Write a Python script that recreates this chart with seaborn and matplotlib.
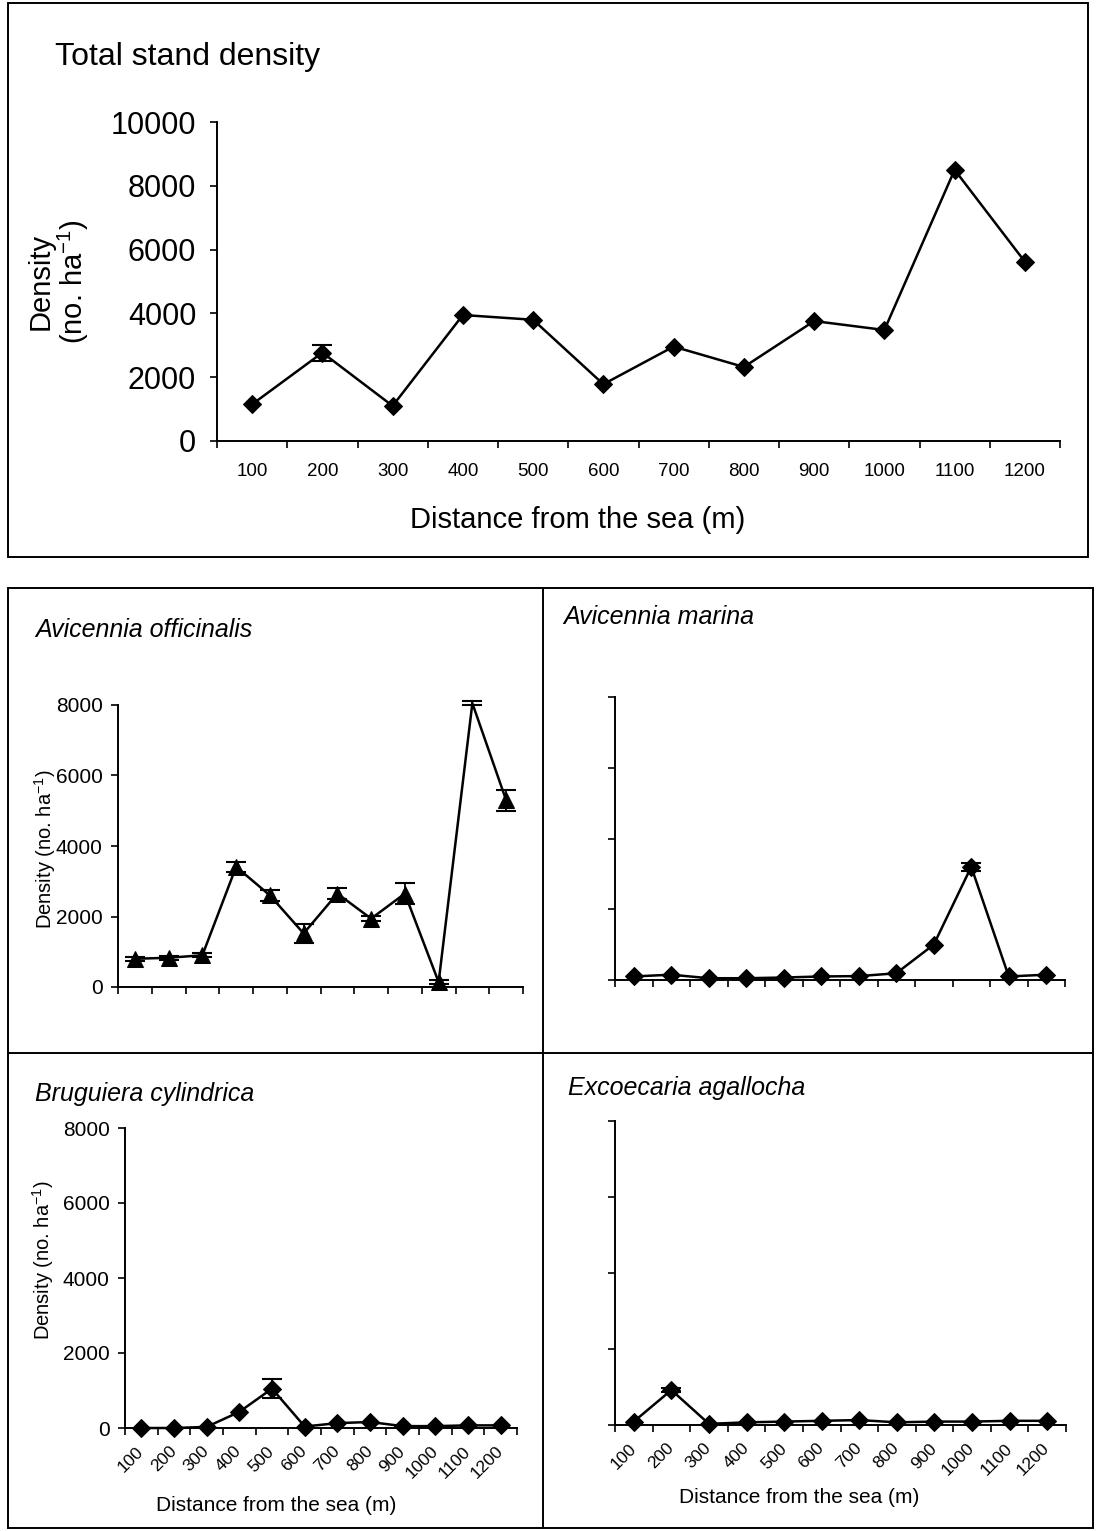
import numpy as np
import pandas as pd
import matplotlib
matplotlib.use("Agg")
import matplotlib.pyplot as plt
import matplotlib.transforms as mtransforms
import seaborn as sns
from matplotlib.patches import Rectangle
from matplotlib.lines import Line2D

# ---------------- data ----------------
distances = ["100", "200", "300", "400", "500", "600", "700", "800", "900", "1000", "1100", "1200"]

total_density = [1150, 2770, 1100, 3950, 3800, 1780, 2960, 2320, 3760, 3480, 8500, 5620]
total_err = [0, 250, 0, 0, 0, 0, 0, 0, 0, 0, 0, 0]

officinalis = [800, 830, 900, 3410, 2600, 1520, 2650, 1940, 2650, 140, 8050, 5300]
officinalis_err = [60, 60, 60, 150, 150, 280, 150, 80, 300, 60, 60, 300]

marina = [100, 150, 50, 50, 70, 100, 110, 190, 1000, 3200, 100, 150]
marina_err = [0, 0, 0, 0, 0, 0, 0, 0, 0, 120, 0, 0]

bruguiera = [0, 0, 30, 430, 1050, 40, 130, 160, 50, 50, 70, 70]
bruguiera_err = [0, 0, 0, 0, 250, 0, 0, 0, 0, 0, 0, 0]

excoecaria = [90, 920, 30, 70, 90, 110, 130, 70, 90, 90, 110, 110]
excoecaria_err = [0, 60, 0, 0, 0, 0, 0, 0, 0, 0, 0, 0]

# ---------------- style ----------------
sns.set_theme(style="white")
plt.rcParams["font.family"] = ["Liberation Sans", "DejaVu Sans"]
plt.rcParams["mathtext.fontset"] = "custom"
plt.rcParams["mathtext.rm"] = "Liberation Sans"
plt.rcParams["mathtext.it"] = "Liberation Sans:italic"
plt.rcParams["text.color"] = "black"
plt.rcParams["axes.labelcolor"] = "black"
plt.rcParams["xtick.color"] = "black"
plt.rcParams["ytick.color"] = "black"

W, H = 1097, 1531
fig = plt.figure(figsize=(W / 100, H / 100), dpi=100)
fig.patch.set_facecolor("white")


def rect(left, right, top, bottom):
    return [left / W, 1 - bottom / H, (right - left) / W, (bottom - top) / H]


def draw_panel(ax, values, errs, marker, ms, ymax, yticks, tick_fs, show_ylabels,
               xlabels, xlabel_rot, xtick_fs, skip=None):
    n = len(distances)
    df = pd.DataFrame({"pos": np.arange(n), "density": values})
    kw = {}
    if skip is not None:
        kw["markevery"] = [i for i in range(n) if i not in skip]
    sns.lineplot(data=df, x="pos", y="density", ax=ax, color="black", marker=marker,
                 markersize=ms, markeredgecolor="black", markerfacecolor="black",
                 linewidth=1.8, clip_on=False, zorder=3, **kw)
    e = np.array(errs, dtype=float)
    mask = e > 0
    if mask.any():
        ax.errorbar(df["pos"][mask], np.array(values)[mask], yerr=e[mask], fmt="none",
                    ecolor="black", elinewidth=1.3, capsize=7, capthick=1.5,
                    clip_on=False, zorder=4)
    ax.set_xlim(-0.5, n - 0.5)
    ax.set_ylim(0, ymax)
    ax.set_xticks(np.arange(-0.5, n, 1))
    ax.set_xticklabels([])
    ax.set_xticks(np.arange(n), minor=True)
    if xlabels:
        if xlabel_rot:
            ax.set_xticklabels(distances, minor=True, rotation=45, ha="right", va="center",
                               rotation_mode="anchor", fontsize=xtick_fs)
            off = mtransforms.ScaledTranslation(-8 / 100, 0, fig.dpi_scale_trans)
            for lab in ax.get_xticklabels(minor=True):
                lab.set_transform(lab.get_transform() + off)
        else:
            ax.set_xticklabels(distances, minor=True, fontsize=xtick_fs)
    else:
        ax.set_xticklabels([], minor=True)
    ax.set_yticks(yticks)
    if show_ylabels:
        ax.set_yticklabels([str(t) for t in yticks], fontsize=tick_fs)
    else:
        ax.set_yticklabels([])
    ax.tick_params(axis="x", which="major", direction="out", length=5, width=1.2,
                   bottom=True, color="black")
    ax.tick_params(axis="y", which="major", direction="out", length=5, width=1.2,
                   left=True, color="black")
    ax.tick_params(axis="both", colors="black", labelcolor="black")
    for s in ["top", "right"]:
        ax.spines[s].set_visible(False)
    for s in ["left", "bottom"]:
        ax.spines[s].set_color("black")
        ax.spines[s].set_linewidth(1.4)
    ax.set_facecolor("none")
    ax.grid(False)
    ax.set_xlabel("")
    ax.set_ylabel("")


# ---------------- top panel ----------------
ax0 = fig.add_axes(rect(217, 1060, 122, 441))
draw_panel(ax0, total_density, total_err, "D", 9, 10000, [0, 2000, 4000, 6000, 8000, 10000],
           22, True, True, False, 13.5)
ax0.tick_params(axis="x", which="minor", length=0, pad=16)
ax0.tick_params(axis="y", which="major", pad=10)
ax0.set_ylabel("Density\n(no. ha$^{-1}$)", fontsize=21, linespacing=1.05, va="center")
ax0.yaxis.set_label_coords(-0.188, 0.5)
ax0.set_xlabel("Distance from the sea (m)", fontsize=21, va="center")
ax0.xaxis.set_label_coords(0.428, -0.248)
fig.text(55 / W, 1 - 57 / H, "Total stand density", fontsize=23, ha="left", va="center")

# ---------------- Avicennia officinalis ----------------
ax1 = fig.add_axes(rect(118, 523, 705, 987))
draw_panel(ax1, officinalis, officinalis_err, "^", 12, 8000, [0, 2000, 4000, 6000, 8000],
           15, True, False, False, 12, skip=[10])
ax1.tick_params(axis="y", which="major", pad=6)
ax1.set_ylabel("Density (no. ha$^{-1}$)", fontsize=14.5, va="center")
ax1.yaxis.set_label_coords(-0.18, 0.49)
fig.text(35 / W, 1 - 630 / H, "Avicennia officinalis", fontsize=18, style="italic",
         ha="left", va="center")

# ---------------- Avicennia marina ----------------
ax2 = fig.add_axes(rect(615, 1065, 697, 980))
draw_panel(ax2, marina, marina_err, "D", 9, 8000, [0, 2000, 4000, 6000, 8000],
           15, False, False, False, 12)
fig.text(563 / W, 1 - 617 / H, "Avicennia marina", fontsize=18, style="italic",
         ha="left", va="center")

# ---------------- Bruguiera cylindrica ----------------
ax3 = fig.add_axes(rect(125, 517, 1128, 1428))
draw_panel(ax3, bruguiera, bruguiera_err, "D", 9, 8000, [0, 2000, 4000, 6000, 8000],
           15, True, True, True, 12.5)
ax3.tick_params(axis="x", which="minor", length=0, pad=15)
ax3.tick_params(axis="y", which="major", pad=6)
ax3.set_ylabel("Density (no. ha$^{-1}$)", fontsize=14.5, va="center")
ax3.yaxis.set_label_coords(-0.21, 0.56)
ax3.set_xlabel("Distance from the sea (m)", fontsize=15, va="center")
ax3.xaxis.set_label_coords(0.385, -0.257)
fig.text(35 / W, 1 - 1094 / H, "Bruguiera cylindrica", fontsize=18, style="italic",
         ha="left", va="center")

# ---------------- Excoecaria agallocha ----------------
ax4 = fig.add_axes(rect(615, 1066, 1121, 1425))
draw_panel(ax4, excoecaria, excoecaria_err, "D", 9, 8000, [0, 2000, 4000, 6000, 8000],
           15, False, True, True, 12.5)
ax4.tick_params(axis="x", which="minor", length=0, pad=15)
ax4.set_xlabel("Distance from the sea (m)", fontsize=15, va="center")
ax4.xaxis.set_label_coords(0.408, -0.237)
fig.text(568 / W, 1 - 1088 / H, "Excoecaria agallocha", fontsize=18, style="italic",
         ha="left", va="center")

# ---------------- frames ----------------
fig.add_artist(Rectangle((8 / W, 1 - 557 / H), (1088 - 8) / W, (557 - 3) / H,
                         transform=fig.transFigure, fill=False, lw=1.4, ec="black"))
fig.add_artist(Rectangle((8 / W, 1 - 1528 / H), (1093 - 8) / W, (1528 - 588) / H,
                         transform=fig.transFigure, fill=False, lw=1.4, ec="black"))
fig.add_artist(Line2D([543 / W, 543 / W], [1 - 588 / H, 1 - 1528 / H],
                      transform=fig.transFigure, lw=1.4, color="black"))
fig.add_artist(Line2D([8 / W, 1093 / W], [1 - 1053 / H, 1 - 1053 / H],
                      transform=fig.transFigure, lw=1.4, color="black"))

fig.savefig("out.png", dpi=100, facecolor="white")
